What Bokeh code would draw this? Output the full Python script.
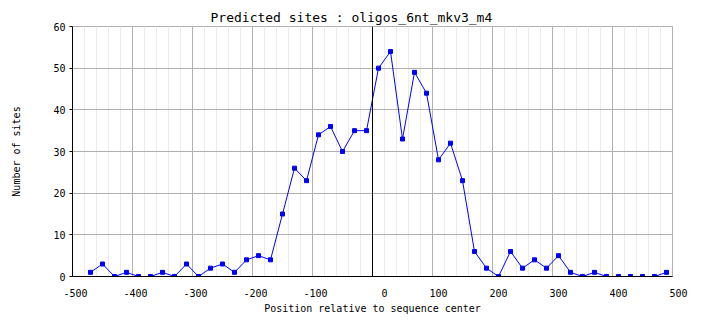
from bokeh.plotting import figure
from bokeh.models import Range1d, FixedTicker, Span
from bokeh.embed import file_html
from bokeh.resources import INLINE

# Data: window centres (bp) and number of predicted sites
positions = [-470, -450, -430, -410, -390, -370, -350, -330, -310, -290,
             -270, -250, -230, -210, -190, -170, -150, -130, -110, -90,
             -70, -50, -30, -10, 10, 30, 50, 70, 90, 110,
             130, 150, 170, 190, 210, 230, 250, 270, 290, 310,
             330, 350, 370, 390, 410, 430, 450, 470, 490]
sites = [1, 3, 0, 1, 0, 0, 1, 0, 3, 0,
         2, 3, 1, 4, 5, 4, 15, 26, 23, 34,
         36, 30, 35, 35, 50, 54, 33, 49, 44, 28,
         32, 23, 6, 2, 0, 6, 2, 4, 2, 5,
         1, 0, 1, 0, 0, 0, 0, 0, 1]

x_ticks = [-500, -400, -300, -200, -100, 0, 100, 200, 300, 400, 500]
x_minor = list(range(-500, 501, 20))
y_ticks = [0, 10, 20, 30, 40, 50, 60]

title_text = "Predicted sites : oligos_6nt_mkv3_m4"
x_label = "Position relative to sequence center"
y_label = "Number of sites"

FONT = "DejaVu Sans Mono"

p = figure(width=704, height=328, output_backend="svg", toolbar_location=None,
           x_range=Range1d(-500, 500), y_range=Range1d(0, 60),
           min_border_left=72, min_border_right=32, min_border_top=26,
           min_border_bottom=52, title=title_text)

p.background_fill_color = "white"
p.border_fill_color = "white"
p.outline_line_color = "#b0b0b0"

p.title.text_font = FONT
p.title.text_font_size = "13px"
p.title.text_font_style = "normal"
p.title.text_color = "black"
p.title.align = "left"
p.title.offset = 138
p.title.standoff = 3

# X axis
p.xaxis.ticker = FixedTicker(ticks=x_ticks, minor_ticks=x_minor)
p.xaxis.major_label_overrides = {t: str(t).rjust(5, "\u00a0") for t in x_ticks}
p.xaxis.axis_label = x_label
p.xaxis.minor_tick_line_color = None
p.xaxis.major_label_standoff = 5
p.xaxis.axis_label_standoff = 1

# Y axis
p.yaxis.ticker = FixedTicker(ticks=y_ticks)
p.yaxis.axis_label = y_label
p.yaxis.major_tick_out = 3
p.yaxis.major_tick_in = 0
p.yaxis.minor_tick_line_color = None
p.yaxis.major_label_standoff = 4
p.yaxis.axis_label_standoff = 28

for ax in (p.xaxis, p.yaxis):
    ax.axis_line_color = "black"
    ax.axis_line_width = 1
    ax.major_label_text_font = FONT
    ax.major_label_text_font_size = "10px"
    ax.major_label_text_color = "black"
    ax.axis_label_text_font = FONT
    ax.axis_label_text_font_size = "10px"
    ax.axis_label_text_font_style = "normal"
    ax.axis_label_text_color = "black"
p.xaxis.major_tick_line_color = None
p.yaxis.major_tick_line_color = "black"

p.xgrid.grid_line_color = "#b0b0b0"
p.xgrid.minor_grid_line_color = "#ebebeb"
p.ygrid.grid_line_color = "#b0b0b0"

p.add_layout(Span(location=0, dimension="height", line_color="black", line_width=1))

p.line(positions, sites, line_color="#0000ff", line_width=1)
p.scatter(positions, sites, marker="square", size=4, fill_color="#0000ff",
          line_color="#0000ff")

open("out.html", "w").write(file_html(p, INLINE))
